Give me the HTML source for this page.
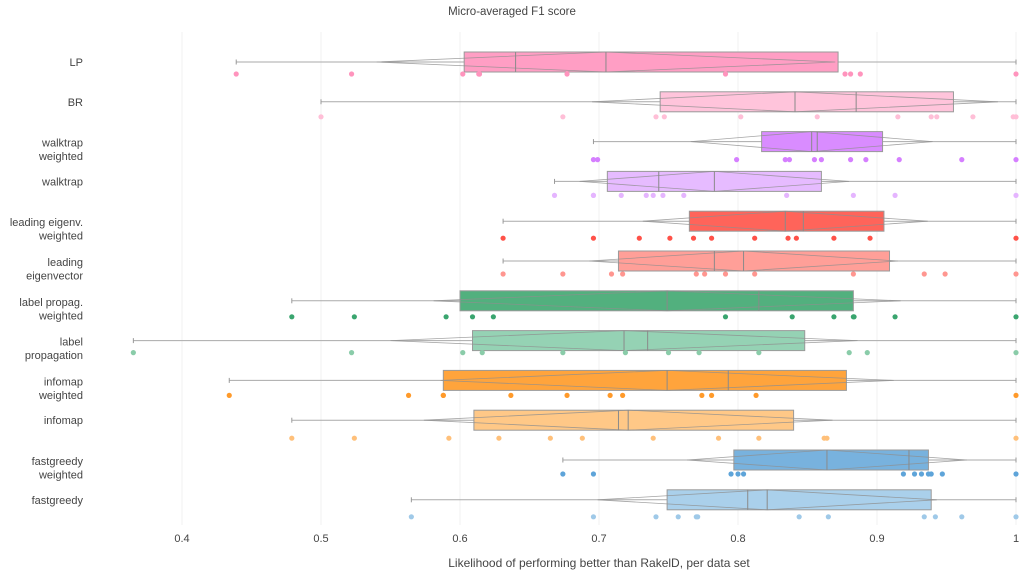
<!DOCTYPE html>
<html><head><meta charset="utf-8"><style>
html,body{margin:0;padding:0;background:#fff;}
svg{display:block;font-family:"Liberation Sans","DejaVu Sans",sans-serif;}
</style></head><body>
<svg id="chart" width="1024" height="575" viewBox="0 0 1024 575" xmlns="http://www.w3.org/2000/svg">
<text x="512" y="15" text-anchor="middle" font-size="11.5" fill="#444">Micro-averaged F1 score</text>
<g id="grid"></g>
<g id="boxes"></g>
<g id="ticks"></g>
<text x="599" y="567" text-anchor="middle" font-size="12" fill="#444">Likelihood of performing better than RakelD, per data set</text>
</svg>
<script>
const categories = ["LP","BR","walktrap weighted","walktrap","leading eigenv. weighted","leading eigenvector","label propag. weighted","label propagation","infomap weighted","infomap","fastgreedy weighted","fastgreedy"];
const labelLines = [["LP"],["BR"],["walktrap","weighted"],["walktrap"],["leading eigenv.","weighted"],["leading","eigenvector"],["label propag.","weighted"],["label","propagation"],["infomap","weighted"],["infomap"],["fastgreedy","weighted"],["fastgreedy"]];
const whiskerLo = [0.439,0.5,0.696,0.668,0.631,0.631,0.479,0.365,0.434,0.479,0.674,0.565];
const q1 = [0.603,0.744,0.817,0.706,0.765,0.714,0.600,0.609,0.588,0.610,0.797,0.749];
const median = [0.640,0.885,0.857,0.743,0.847,0.783,0.815,0.735,0.793,0.714,0.923,0.807];
const q3 = [0.872,0.955,0.904,0.860,0.905,0.909,0.883,0.848,0.878,0.840,0.937,0.939];
const whiskerHi = [1,1,1,1,1,1,1,1,1,1,1,1];
const means = [0.705,0.841,0.853,0.783,0.834,0.804,0.749,0.718,0.749,0.721,0.864,0.821];
const sds = [0.165,0.146,0.087,0.097,0.1025,0.111,0.168,0.168,0.163,0.147,0.1007,0.122];
const points = [
 [0.439,0.522,0.602,0.614,0.6135,0.614,0.677,0.791,0.877,0.881,0.888,1.0],
 [0.5,0.674,0.741,0.747,0.802,0.857,0.915,0.939,0.943,0.969,0.998,1.0],
 [0.696,0.699,0.799,0.834,0.837,0.855,0.860,0.881,0.892,0.916,0.961,1.0],
 [0.668,0.696,0.696,0.716,0.734,0.739,0.746,0.761,0.835,0.883,0.913,1.0],
 [0.631,0.696,0.729,0.751,0.768,0.781,0.812,0.836,0.842,0.869,0.895,1.0],
 [0.631,0.674,0.709,0.717,0.770,0.776,0.791,0.812,0.883,0.934,0.949,1.0],
 [0.479,0.524,0.590,0.609,0.624,0.791,0.839,0.869,0.883,0.8835,0.913,1.0],
 [0.365,0.522,0.602,0.616,0.674,0.719,0.750,0.772,0.815,0.880,0.893,1.0],
 [0.434,0.563,0.588,0.588,0.6366,0.677,0.708,0.717,0.774,0.781,0.813,1.0],
 [0.479,0.524,0.592,0.628,0.665,0.688,0.739,0.786,0.815,0.864,0.862,1.0],
 [0.674,0.696,0.795,0.800,0.804,0.919,0.927,0.932,0.937,0.939,0.947,1.0],
 [0.565,0.696,0.741,0.757,0.770,0.771,0.844,0.865,0.934,0.942,0.961,1.0]
];
const tickValues = [0.4,0.5,0.6,0.7,0.8,0.9,1.0];
const tickLabels = ["0.4","0.5","0.6","0.7","0.8","0.9","1"];
const boxColors = ["#ff9ec4","#ffc4db","#d98cff","#e6bbff","#ff645a","#ff9f98","#52b07e","#95d2b4","#ffa43c","#ffc887","#78b2de","#aad0eb"];
const ptColors = ["#ff94bd","#ffbfd7","#d57fff","#e5b5ff","#ff5148","#ff9690","#3aa56f","#8acca9","#ff9a2a","#ffc07a","#5ea4d9","#9fc9e8"];

const NS="http://www.w3.org/2000/svg";
function x(v){return 182+(v-0.4)*1390;}
function yc(i){return 62+i*39.8;}
function mk(tag,attrs,parent){const e=document.createElementNS(NS,tag);for(const k in attrs)e.setAttribute(k,attrs[k]);parent.appendChild(e);return e;}
const grid=document.getElementById('grid'),boxes=document.getElementById('boxes'),ticks=document.getElementById('ticks'),svg=document.getElementById('chart');
tickValues.forEach((t,k)=>{
  const g=mk('line',{x1:x(t),x2:x(t),y1:32,y2:525,stroke:'#f0f0f0','stroke-width':1},grid);
  
  
  const tx=mk('text',{x:x(t),y:542,'text-anchor':'middle','font-size':11,fill:'#444'},ticks);
  tx.textContent=tickLabels[k];
  
  
});
categories.forEach((c,i)=>{
  const cy=yc(i),h=10;
  const g=mk('g',{},boxes);
  
  
  const lines=labelLines[i];
  lines.forEach((ln,j)=>{
    const by = lines.length===1 ? cy+4 : cy+5+j*13.5;
    const t=mk('text',{x:83,y:by,'text-anchor':'end','font-size':11,fill:'#444'},svg);
    t.textContent=ln;
    
    
  });
  const w=mk('line',{x1:x(whiskerLo[i]),x2:x(whiskerHi[i]),y1:cy,y2:cy,stroke:'#aaaaaa','stroke-width':1},g);
  
  
  [whiskerLo[i],whiskerHi[i]].forEach(v=>{
    const cap=mk('line',{x1:x(v),x2:x(v),y1:cy-2.5,y2:cy+2.5,stroke:'#999','stroke-width':1},g);
    
    
  });
  const r=mk('rect',{x:x(q1[i]),y:cy-h,width:x(q3[i])-x(q1[i]),height:2*h,fill:boxColors[i],stroke:'#9a9a9a','stroke-width':1},g);
  
  
  const m=means[i],s=sds[i];
  const d=mk('polygon',{points:`${x(m-s)},${cy} ${x(m)},${cy-h} ${x(m+s)},${cy} ${x(m)},${cy+h}`,fill:'none',stroke:'#8f8f8f','stroke-width':0.8,'stroke-opacity':0.8},g);
  
  
  const ml=mk('line',{x1:x(m),x2:x(m),y1:cy-h,y2:cy+h,stroke:'#8a8a8a','stroke-width':1},g);
  
  
  const md=mk('line',{x1:x(median[i]),x2:x(median[i]),y1:cy-h,y2:cy+h,stroke:'#8a8a8a','stroke-width':1},g);
  
  
  points[i].forEach((v,k)=>{
    const off=12+((k*7+i*3)%7);
    const p=mk('circle',{cx:x(v),cy:cy+off,r:2.6,fill:ptColors[i]},g);
    
    
  });
});
</script>
</body></html>
